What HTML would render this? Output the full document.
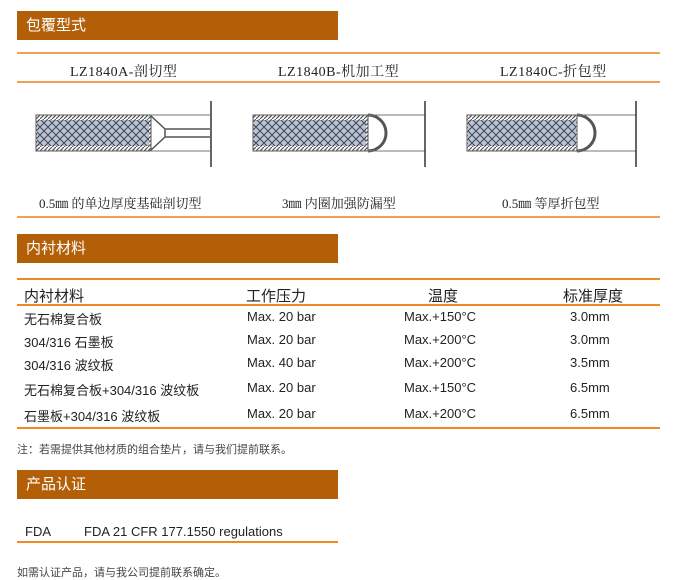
<!DOCTYPE html>
<html><head><meta charset="utf-8"><style>
body{margin:0;width:675px;height:580px;background:#fff;position:relative;overflow:hidden;font-family:"Liberation Sans","Noto Sans CJK SC",sans-serif;color:#222}
.a{position:absolute;white-space:nowrap}
.hd{position:absolute;left:17px;width:321px;height:29px;background:#b35f08;color:#fff;font-size:15px;line-height:29px;text-indent:9px}
.ln{position:absolute;height:2px;background:#f0a050}
.s{font-family:"Liberation Serif","Noto Serif CJK SC",serif;font-size:14px}
.t{font-size:13px}
</style></head><body>
<div class="hd" style="top:11px">包覆型式</div>
<div class="ln" style="left:17px;width:643px;top:52px"></div>
<div class="a s" style="left:70px;top:61px;letter-spacing:0.5px">LZ1840A-剖切型</div>
<div class="a s" style="left:278px;top:61px;letter-spacing:0.5px">LZ1840B-机加工型</div>
<div class="a s" style="left:500px;top:61px;letter-spacing:0.5px">LZ1840C-折包型</div>
<div class="ln" style="left:17px;width:643px;top:81px"></div>
<svg class="a" style="left:0;top:95px" width="675" height="80">
<defs><pattern id="p" width="8" height="8" patternUnits="userSpaceOnUse"><rect width="8" height="8" fill="#b8c4dc"/><path d="M0 0L8 8M8 0L0 8" stroke="#444" stroke-width="1"/></pattern>
<pattern id="h" width="4" height="4" patternUnits="userSpaceOnUse"><rect width="4" height="4" fill="#fff"/><path d="M0 4L4 0" stroke="#555" stroke-width="1.2"/></pattern></defs>
<g>
<rect x="36" y="20" width="115" height="36" fill="url(#h)" stroke="#555"/>
<rect x="37" y="25" width="112" height="26" fill="url(#p)"/>
<path d="M150 20L165 34H210M150 56L165 42H210M165 34V42" fill="none" stroke="#555" stroke-width="1.5"/>
<path d="M150 20H210M150 56H210" stroke="#777"/>
<line x1="211" y1="6" x2="211" y2="72" stroke="#333" stroke-width="1.5"/>
</g>
<g>
<rect x="253" y="20" width="115" height="36" fill="url(#h)" stroke="#555"/>
<rect x="254" y="25" width="112" height="26" fill="url(#p)"/>
<path d="M368 20A18 18 0 0 1 368 56" fill="none" stroke="#555" stroke-width="3"/>
<path d="M368 20H425M368 56H425" stroke="#777"/>
<line x1="425" y1="6" x2="425" y2="72" stroke="#333" stroke-width="1.5"/>
</g>
<g>
<rect x="467" y="20" width="110" height="36" fill="url(#h)" stroke="#555"/>
<rect x="468" y="25" width="108" height="26" fill="url(#p)"/>
<path d="M577 20A18 18 0 0 1 577 56" fill="none" stroke="#555" stroke-width="3"/>
<path d="M577 20H636M577 56H636" stroke="#777"/>
<line x1="636" y1="6" x2="636" y2="72" stroke="#333" stroke-width="1.5"/>
</g>
</svg>
<div class="a s" style="left:39px;top:193px;font-size:13px">0.5㎜ 的单边厚度基础剖切型</div>
<div class="a s" style="left:282px;top:193px;font-size:13px">3㎜ 内圈加强防漏型</div>
<div class="a s" style="left:502px;top:193px;font-size:13px">0.5㎜ 等厚折包型</div>
<div class="ln" style="left:17px;width:643px;top:216px"></div>
<div class="hd" style="top:234px">内衬材料</div>
<div class="ln" style="left:17px;width:643px;top:278px;background:#f08a20"></div>
<div class="a" style="left:24px;top:285px;font-size:15px">内衬材料</div>
<div class="a" style="left:246px;top:285px;font-size:15px">工作压力</div>
<div class="a" style="left:428px;top:285px;font-size:15px">温度</div>
<div class="a" style="left:563px;top:285px;font-size:15px">标准厚度</div>
<div class="ln" style="left:17px;width:643px;top:304px;background:#f08a20"></div>
<div class="a t" style="left:24px;top:309px">无石棉复合板</div>
<div class="a t" style="left:24px;top:332px">304/316 石墨板</div>
<div class="a t" style="left:24px;top:355px">304/316 波纹板</div>
<div class="a t" style="left:24px;top:380px">无石棉复合板+304/316 波纹板</div>
<div class="a t" style="left:24px;top:406px">石墨板+304/316 波纹板</div>
<div class="a t" style="left:247px;top:309px">Max. 20 bar</div>
<div class="a t" style="left:247px;top:332px">Max. 20 bar</div>
<div class="a t" style="left:247px;top:355px">Max. 40 bar</div>
<div class="a t" style="left:247px;top:380px">Max. 20 bar</div>
<div class="a t" style="left:247px;top:406px">Max. 20 bar</div>
<div class="a t" style="left:404px;top:309px">Max.+150°C</div>
<div class="a t" style="left:404px;top:332px">Max.+200°C</div>
<div class="a t" style="left:404px;top:355px">Max.+200°C</div>
<div class="a t" style="left:404px;top:380px">Max.+150°C</div>
<div class="a t" style="left:404px;top:406px">Max.+200°C</div>
<div class="a t" style="left:570px;top:309px">3.0mm</div>
<div class="a t" style="left:570px;top:332px">3.0mm</div>
<div class="a t" style="left:570px;top:355px">3.5mm</div>
<div class="a t" style="left:570px;top:380px">6.5mm</div>
<div class="a t" style="left:570px;top:406px">6.5mm</div>
<div class="ln" style="left:17px;width:643px;top:427px;background:#f08a20"></div>
<div class="a" style="left:17px;top:441px;font-size:11px;color:#444">注：若需提供其他材质的组合垫片，请与我们提前联系。</div>
<div class="hd" style="top:470px">产品认证</div>
<div class="a t" style="left:25px;top:524px">FDA</div>
<div class="a t" style="left:84px;top:524px">FDA 21 CFR 177.1550 regulations</div>
<div class="ln" style="left:17px;width:321px;top:541px;background:#f08a20"></div>
<div class="a" style="left:17px;top:564px;font-size:11px;color:#444">如需认证产品，请与我公司提前联系确定。</div>
</body></html>
